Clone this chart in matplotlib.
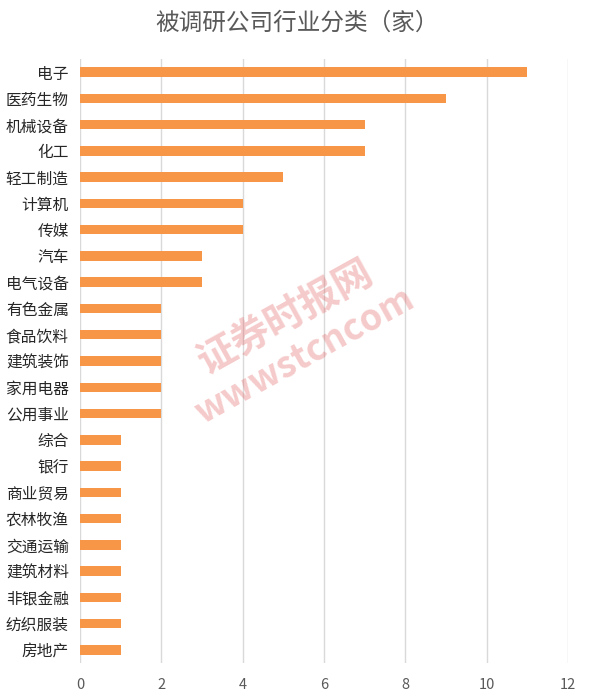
import matplotlib.pyplot as plt

plt.rcParams['font.family'] = ['Noto Sans CJK SC', 'DejaVu Sans']

title = '被调研公司行业分类（家）'
industries = ['电子', '医药生物', '机械设备', '化工', '轻工制造', '计算机', '传媒', '汽车',
              '电气设备', '有色金属', '食品饮料', '建筑装饰', '家用电器', '公用事业', '综合',
              '银行', '商业贸易', '农林牧渔', '交通运输', '建筑材料', '非银金融', '纺织服装', '房地产']
counts = [11, 9, 7, 7, 5, 4, 4, 3, 3, 2, 2, 2, 2, 2, 1, 1, 1, 1, 1, 1, 1, 1, 1]
xticks = [0, 2, 4, 6, 8, 10, 12]

fig = plt.figure(figsize=(5.94, 6.97), dpi=100)
ax = fig.add_axes([80 / 594, 1 - 663 / 697, 488 / 594, 604 / 697])

pos = list(range(len(industries)))
ax.barh(pos, counts, height=0.36, color='#F79646', zorder=3)
ax.set_ylim(len(industries) - 0.5, -0.5)
ax.set_xlim(0, 12)
ax.set_yticks(pos)
ax.set_yticklabels(industries, fontsize=11.3, color='#262626')
ax.set_xticks(xticks)
ax.set_xticklabels([str(t) for t in xticks], fontsize=10.5, color='#595959')
ax.tick_params(axis='both', length=0)
ax.tick_params(axis='y', pad=8)
ax.tick_params(axis='x', pad=11)
ax.grid(axis='x', color='#D9D9D9', linewidth=1, zorder=0)
for s in ax.spines.values():
    s.set_visible(False)

fig.text(0.5, 1 - 23 / 697, title, ha='center', va='center', fontsize=17, color='#595959')

# watermark
fig.text(285 / 594, 1 - 317 / 697, '证券时报网', rotation=29, ha='center', va='center',
         fontsize=28, color='#E05050', alpha=0.3, fontweight='bold')
fig.text(305 / 594, 1 - 355 / 697, 'wwwstcncom', rotation=29, ha='center', va='center',
         fontsize=26, color='#E05050', alpha=0.3, fontweight='bold')

fig.savefig('out.png', dpi=100)
